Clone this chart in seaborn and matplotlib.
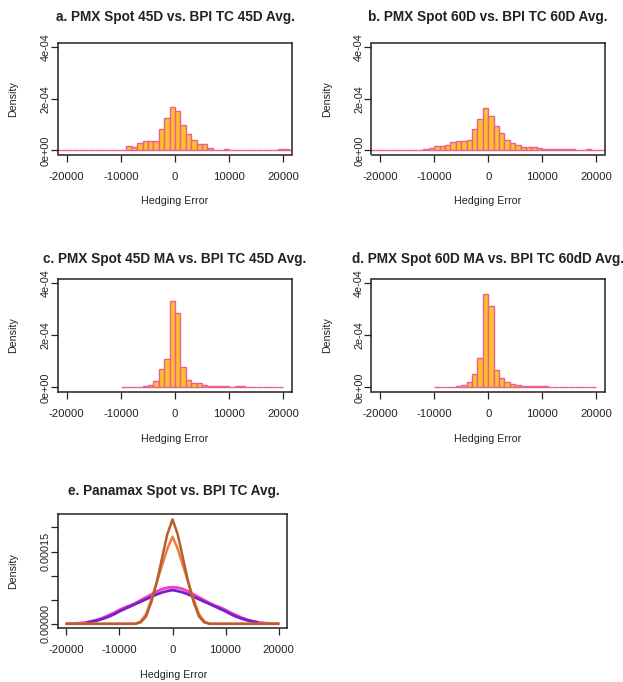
import numpy as np
import pandas as pd
import matplotlib
matplotlib.use("Agg")
import matplotlib.pyplot as plt
import seaborn as sns

sns.set_theme(style="white")
plt.rcParams['font.family'] = ['Liberation Sans', 'DejaVu Sans']

# ---------------- data ----------------
titles = ["a. PMX Spot 45D vs. BPI TC 45D Avg.",
          "b. PMX Spot 60D vs. BPI TC 60D Avg.",
          "c. PMX Spot 45D MA vs. BPI TC 45D Avg.",
          "d. PMX Spot 60D MA vs. BPI TC 60dD Avg.",
          "e. Panamax Spot vs. BPI TC Avg."]

# histogram bins (1000 wide); densities in units of 1e-4
edges_ab = list(range(-22000, 23000, 1000))
#         -22k .. -11k
dens_a = [0, 0, 0, 0, 0.03, 0.03, 0, 0, 0.02, 0.02, 0.02, 0.02,
          # -10k .. -1k
          0.03, 0.17, 0.13, 0.29, 0.36, 0.36, 0.36, 0.81, 1.26, 1.68,
          # 0 .. 9k
          1.51, 1.00, 0.62, 0.40, 0.23, 0.23, 0.10, 0.03, 0.03, 0.05,
          # 10k .. 21k
          0.03, 0.03, 0.03, 0.03, 0.03, 0.03, 0, 0, 0, 0.04, 0.04, 0]
dens_b = [0, 0, 0, 0, 0, 0.03, 0, 0, 0.03, 0.03, 0.05, 0.08,
          0.15, 0.15, 0.22, 0.32, 0.35, 0.36, 0.40, 0.83, 1.22, 1.63,
          1.35, 0.95, 0.67, 0.41, 0.28, 0.19, 0.13, 0.12, 0.12, 0.09,
          0.06, 0.06, 0.06, 0.06, 0.06, 0.06, 0, 0, 0.06, 0, 0, 0]
edges_cd = list(range(-10000, 21000, 1000))
#         -10k .. -1k
dens_c = [0.01, 0.01, 0.02, 0.03, 0.06, 0.10, 0.23, 0.71, 1.08, 3.29,
          # 0 .. 9k
          2.84, 0.77, 0.28, 0.17, 0.17, 0.09, 0.04, 0.06, 0.06, 0.06,
          # 10k .. 19k
          0.03, 0.06, 0.06, 0.02, 0.02, 0.02, 0.02, 0.01, 0.01, 0.01]
dens_d = [0.01, 0.01, 0.01, 0.02, 0.04, 0.08, 0.19, 0.52, 1.12, 3.57,
          3.12, 0.65, 0.36, 0.21, 0.13, 0.09, 0.06, 0.05, 0.05, 0.05,
          0.05, 0.03, 0.02, 0.02, 0.02, 0.02, 0.02, 0.02, 0.02, 0.02]

# panel e: density curves, x grid in thousands, density in 1e-4
curve_x = list(range(-20, 21))
#                  -6    -5    -4    -3    -2    -1     0     1     2     3     4     5     6
curve_a = [0]*14 + [0.03, 0.15, 0.45, 0.85, 1.35, 1.85, 2.17, 1.85, 1.35, 0.85, 0.45, 0.15, 0.03] + [0]*14
curve_b = [0]*14 + [0.05, 0.20, 0.50, 0.85, 1.20, 1.55, 1.81, 1.55, 1.20, 0.85, 0.50, 0.20, 0.05] + [0]*14
curve_c = [0.003, 0.005, 0.01, 0.02, 0.035, 0.06, 0.09, 0.13, 0.18, 0.23,
           0.29, 0.34, 0.38, 0.43, 0.49, 0.55, 0.61, 0.67, 0.72, 0.75,
           0.76, 0.75, 0.72, 0.67, 0.61, 0.55, 0.49, 0.43, 0.38, 0.34,
           0.29, 0.23, 0.18, 0.13, 0.09, 0.06, 0.035, 0.02, 0.01, 0.005,
           0.003]
curve_d_x = list(range(-16, 17))
curve_d = [0.03, 0.05, 0.075, 0.11, 0.15, 0.20, 0.26, 0.31, 0.36, 0.41,
           0.46, 0.51, 0.56, 0.61, 0.65, 0.68, 0.70, 0.68, 0.65, 0.61,
           0.56, 0.51, 0.46, 0.41, 0.36, 0.31, 0.26, 0.20, 0.15, 0.11,
           0.075, 0.05, 0.03]

# ---------------- layout ----------------
W, H = 623, 682
fig = plt.figure(figsize=(W/100, H/100), dpi=100)

def box(l, r, t, b):
    return [l/W, 1 - b/H, (r-l)/W, (b-t)/H]

FILL = "#FFC125"
EDGE = "#E8609A"
TXT = "#222222"

def style_axes(ax):
    for s in ax.spines.values():
        s.set_visible(True)
        s.set_color("#222222")
        s.set_linewidth(1.1)
    ax.tick_params(axis="both", which="both", direction="out", length=5,
                   width=0.9, color="#222222", labelsize=8.2, labelcolor=TXT,
                   bottom=True, left=True)
    ax.tick_params(axis="x", pad=7.5)
    ax.tick_params(axis="y", pad=0.3, labelsize=7.8)
    ax.set_xlim(-21600, 21600)
    ax.set_xticks([-20000, -10000, 0, 10000, 20000])
    ax.set_xticklabels(["-20000", "-10000", "0", "10000", "20000"])
    ax.grid(False)
    ax.set_xlabel("")
    ax.set_ylabel("")

hist_specs = [
    (dens_a, edges_ab, box(58, 292, 43, 154.5), 175, 17, 201.5, 13.5),
    (dens_b, edges_ab, box(371.5, 605, 43, 154.5), 488, 17, 201.5, 327),
    (dens_c, edges_cd, box(58, 292, 278.5, 391.5), 175, 258.5, 439, 13.5),
    (dens_d, edges_cd, box(371.5, 605, 278.5, 391.5), 488, 258.5, 439, 327),
]

for i, (dens, edges, rect, cx, ty, xly, ylx) in enumerate(hist_specs):
    ax = fig.add_axes(rect)
    centers = [(edges[k] + edges[k+1]) / 2 for k in range(len(edges)-1)]
    df = pd.DataFrame({"x": centers, "w": [d*1e-4 for d in dens]})
    sns.histplot(data=df, x="x", weights="w", bins=edges, stat="count",
                 color=FILL, edgecolor=EDGE, linewidth=1.0, alpha=1,
                 ax=ax)
    style_axes(ax)
    ax.set_ylim(-1.6e-5, 4.16e-4)
    ax.set_yticks([0, 2e-4, 4e-4])
    ax.set_yticklabels(["0e+00", "2e-04", "4e-04"], rotation=90, va="center")
    fig.text(cx/W, 1 - ty/H, titles[i], ha="center", va="center",
             fontsize=9.8, fontweight="bold", color=TXT)
    fig.text(cx/W, 1 - xly/H, "Hedging Error", ha="center", va="center",
             fontsize=7.7, color=TXT)
    yc = (rect[1] + rect[3]/2)
    fig.text(ylx/W, yc, "Density", ha="center", va="center", rotation=90,
             fontsize=7.7, color=TXT)

# panel e
ax = fig.add_axes(box(58, 287, 514, 628))
xs = [v*1000 for v in curve_x]
xd = [v*1000 for v in curve_d_x]
sns.lineplot(x=xs, y=[v*1e-4 for v in curve_c], color="#F040C0", lw=2.0, ax=ax)
sns.lineplot(x=xd, y=[v*1e-4 for v in curve_d], color="#7A1FC8", lw=2.0, ax=ax)
sns.lineplot(x=xs, y=[v*1e-4 for v in curve_b], color="#EE7E40", lw=1.8, ax=ax)
sns.lineplot(x=xs, y=[v*1e-4 for v in curve_a], color="#B85E2C", lw=1.8, ax=ax)
style_axes(ax)
ax.set_ylim(-8.7e-6, 2.28e-4)
ax.set_yticks([0, 5e-5, 1e-4, 1.5e-4, 2e-4])
ax.set_yticklabels(["0.00000", "", "", "0.00015", ""], rotation=90, va="center")
fig.text(174/W, 1 - 490.5/H, titles[4], ha="center", va="center",
         fontsize=9.8, fontweight="bold", color=TXT)
fig.text(174/W, 1 - 675/H, "Hedging Error", ha="center", va="center",
         fontsize=7.7, color=TXT)
fig.text(13.5/W, 1 - 571/H, "Density", ha="center", va="center", rotation=90,
         fontsize=7.7, color=TXT)

fig.savefig("out.png", dpi=100)
